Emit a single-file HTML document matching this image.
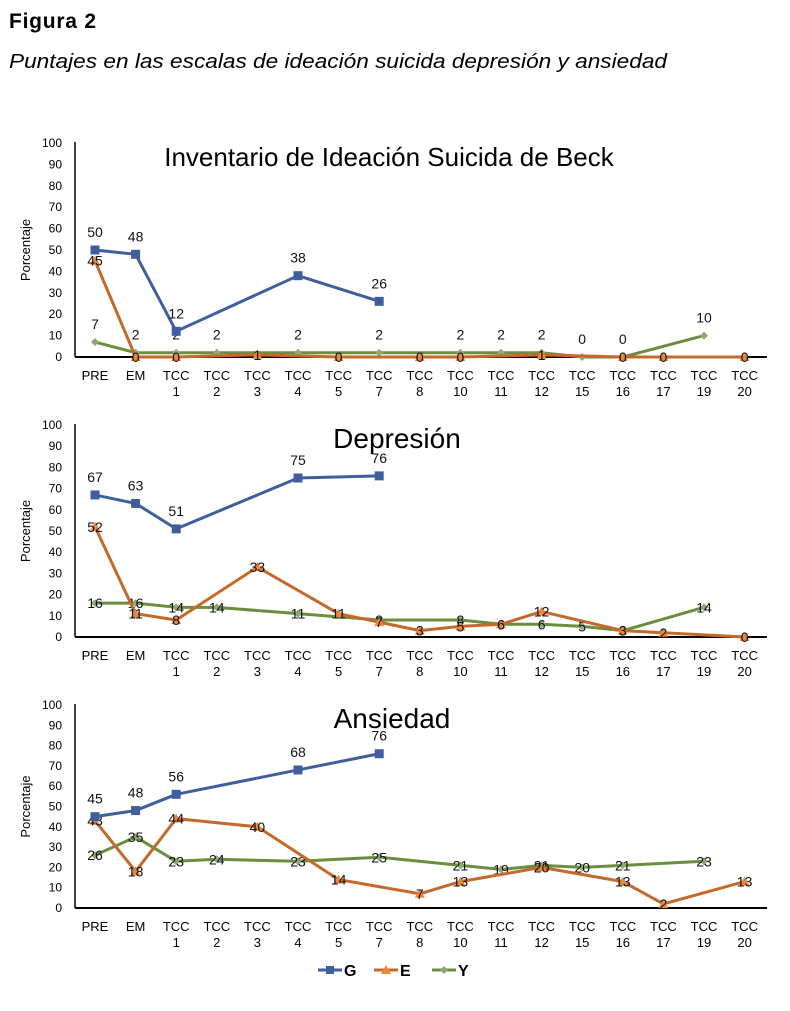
<!DOCTYPE html>
<html><head><meta charset="utf-8"><style>
body{margin:0;background:#fff;width:790px;height:1006px;overflow:hidden;font-family:"Liberation Sans",sans-serif}
svg text{font-family:"Liberation Sans",sans-serif}
</style></head><body>
<svg id="fig" width="790" height="1006" xmlns="http://www.w3.org/2000/svg">
<text x="9" y="28" font-size="21" font-weight="bold" fill="#000" textLength="87">Figura 2</text>
<text x="9" y="68" font-size="20" font-style="italic" fill="#000" textLength="658" lengthAdjust="spacingAndGlyphs">Puntajes en las escalas de ideación suicida depresión y ansiedad</text>
<g>
<g><line x1="318" y1="970" x2="342" y2="970" stroke="#3F5E9E" stroke-width="3"/><rect x="326" y="966" width="8" height="8" fill="#3F5E9E"/><text x="344" y="976" font-size="16" font-weight="bold">G</text></g>
<g><line x1="374" y1="970" x2="398" y2="970" stroke="#C4692C" stroke-width="3"/><polygon points="386,965 391,974 381,974" fill="#E8873E"/><text x="400" y="976" font-size="16" font-weight="bold">E</text></g>
<g><line x1="432" y1="970" x2="456" y2="970" stroke="#6A8E3E" stroke-width="3"/><polygon points="444,966 448,970 444,974 440,970" fill="#8FA874"/><text x="458" y="976" font-size="16" font-weight="bold">Y</text></g>
</g>
</svg>
<script>
const categories=[["PRE"],["EM"],["TCC","1"],["TCC","2"],["TCC","3"],["TCC","4"],["TCC","5"],["TCC","7"],["TCC","8"],["TCC","10"],["TCC","11"],["TCC","12"],["TCC","15"],["TCC","16"],["TCC","17"],["TCC","19"],["TCC","20"]];
const yTicks=[0,10,20,30,40,50,60,70,80,90,100];
const beckG=[50,48,12,null,null,38,null,26,null,null,null,null,null,null,null,null,null];
const beckE=[45,0,0,null,1,null,0,null,0,0,null,1,null,0,0,null,0];
const beckY=[7,2,2,2,null,2,null,2,null,2,2,2,0,0,null,10,null];
const depG=[67,63,51,null,null,75,null,76,null,null,null,null,null,null,null,null,null];
const depE=[52,11,8,null,33,null,11,7,3,5,6,12,null,3,2,null,0];
const depY=[16,16,14,14,null,11,null,8,null,8,6,6,5,3,null,14,null];
const ansG=[45,48,56,null,null,68,null,76,null,null,null,null,null,null,null,null,null];
const ansE=[43,18,44,null,40,null,14,null,7,13,null,20,null,13,2,null,13];
const ansY=[26,35,23,24,null,23,null,25,null,21,19,21,20,21,null,23,null];

const NS="http://www.w3.org/2000/svg";
const svg=document.getElementById('fig');
function mk(tag,attrs,parent){const e=document.createElementNS(NS,tag);for(const k in attrs)e.setAttribute(k,attrs[k]);(parent||svg).appendChild(e);return e;}
const charts=[
 {key:'beck',title:'Inventario de Ideación Suicida de Beck',tx:389,ty:166,ts:26,top:143,base:357,G:beckG,E:beckE,Y:beckY,yAbove:true},
 {key:'depresion',title:'Depresión',tx:397,ty:448,ts:28,top:425,base:637,G:depG,E:depE,Y:depY,yAbove:false},
 {key:'ansiedad',title:'Ansiedad',tx:392,ty:728,ts:28,top:705,base:908,G:ansG,E:ansE,Y:ansY,yAbove:false}
];
const x0=95,dx=40.6;
function xs(i){return x0+i*dx;}
charts.forEach(c=>{
 const g=mk('g',{});
 
 
 const ys=v=>c.base-(c.base-c.top)*v/100;
 const t=mk('text',{x:c.tx,y:c.ty,'font-size':c.ts,'text-anchor':'middle',fill:'#000'},g);t.textContent=c.title;
 
 
 yTicks.forEach(v=>{const e=mk('text',{x:62,y:ys(v)+4,'font-size':12,'text-anchor':'end',fill:'#000'},g);e.textContent=v;
  
  });
 const yt=mk('text',{x:0,y:0,'font-size':13,'text-anchor':'middle',transform:`translate(30,${(c.top+c.base)/2}) rotate(-90)`},g);yt.textContent='Porcentaje';
 
 
 const ya=mk('line',{x1:75,y1:c.top-1,x2:75,y2:c.base,stroke:'#000','stroke-width':1.5},g);
 
 
 const xa=mk('line',{x1:75,y1:c.base,x2:767,y2:c.base,stroke:'#000','stroke-width':2},g);
 
 
 categories.forEach((cat,i)=>{cat.forEach((s,j)=>{const e=mk('text',{x:xs(i),y:c.base+23+j*16,'font-size':13,'text-anchor':'middle',fill:'#000'},g);e.textContent=s;
  
  });});
 const series=[
  {name:'g',data:c.G,col:'#3F5E9E',mk:'sq',lab:-13},
  {name:'e',data:c.E,col:'#C4692C',mk:'tri',lab:5},
  {name:'y',data:c.Y,col:'#6A8E3E',mk:'dia',lab:c.yAbove?-13:5}
 ];
 [series[2],series[1],series[0]].forEach(s=>{
  const pts=[];s.data.forEach((v,i)=>{if(v!==null)pts.push([xs(i),ys(v),v]);});
  const pl=mk('polyline',{points:pts.map(p=>p[0]+','+p[1]).join(' '),fill:'none',stroke:s.col,'stroke-width':3,'stroke-linejoin':'round'},g);
  
  
  pts.forEach(p=>{let m;
   if(s.mk==='sq')m=mk('rect',{x:p[0]-4.5,y:p[1]-4.5,width:9,height:9,fill:s.col},g);
   else if(s.mk==='tri')m=mk('polygon',{points:`${p[0]},${p[1]-5} ${p[0]+5},${p[1]+4} ${p[0]-5},${p[1]+4}`,fill:'#E8873E'},g);
   else m=mk('polygon',{points:`${p[0]},${p[1]-4} ${p[0]+4},${p[1]} ${p[0]},${p[1]+4} ${p[0]-4},${p[1]}`,fill:'#8FA874'},g);
   
   
   const l=mk('text',{x:p[0],y:p[1]+s.lab,'font-size':14,'text-anchor':'middle',fill:'#111'},g);l.textContent=p[2];
   
   
  });
 });
});
</script>
</body></html>
